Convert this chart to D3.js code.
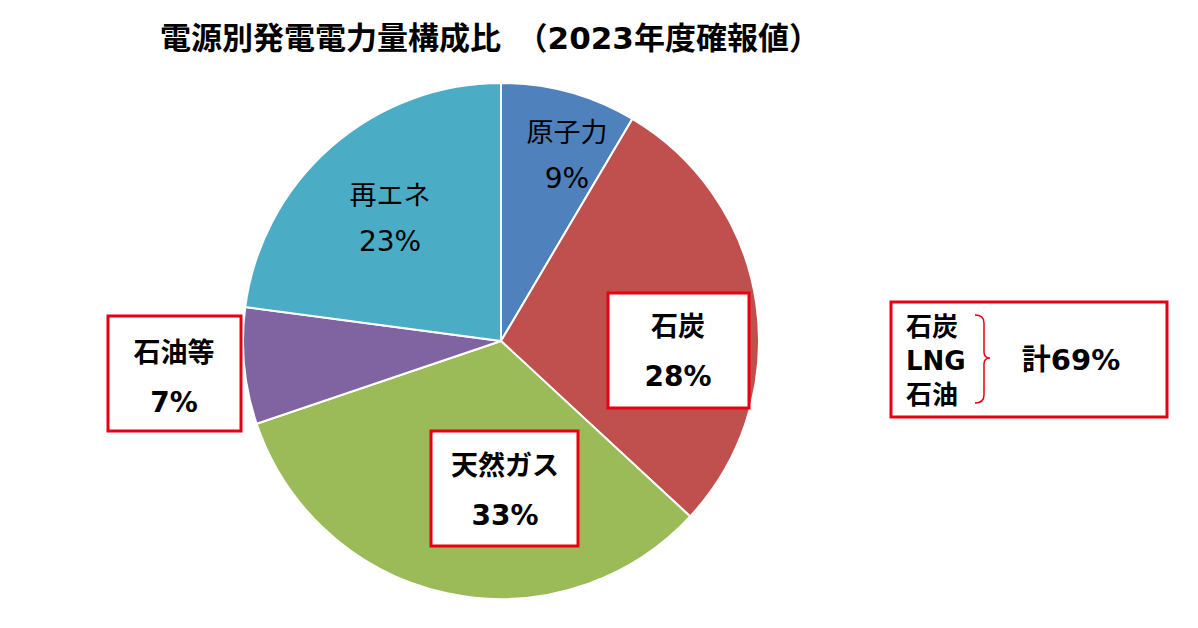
<!DOCTYPE html>
<html>
<head>
<meta charset="utf-8">
<script src="https://cdn.jsdelivr.net/npm/d3@7"></script>
<style>
  body { margin: 0; background: #fff; }
  svg text { font-family: "DejaVu Sans", "Noto Sans CJK JP", sans-serif; fill: #000; }
</style>
</head>
<body>
<script>
// data (share of generated power, %)
var sources  = ["原子力", "石炭", "天然ガス", "石油等", "再エネ"];
var shares   = [8.5, 28.4, 32.9, 7.3, 22.9];
var shareLbl = ["9%", "28%", "33%", "7%", "23%"];
var boxed    = [false, true, true, true, false];
var colors   = ["#4f81bd", "#c0504d", "#9bbb59", "#8064a2", "#4bacc6"];

var fossilLbl = ["石炭", "LNG", "石油"];
var fossilTotal = "計69%";

// layout: label centres (name line), box rects
var labelPos = [[567, 133], [678, 327], [505, 466], [174, 353], [390, 196]];
var boxRect  = [null, [608, 293, 141, 115], [431, 431, 147, 115], [108, 316, 133, 115], null];

var width = 1198, height = 628;
var cx = 501, cy = 341, radius = 258;

var svg = d3.select("body").append("svg")
  .attr("width", width)
  .attr("height", height);

svg.append("text")
  .attr("x", 490)
  .attr("y", 49)
  .attr("text-anchor", "middle")
  .attr("font-size", 31)
  .attr("font-weight", "bold")
  .text("電源別発電電力量構成比　（2023年度確報値）");

var data = sources.map(function (s, i) {
  return { name: s, value: shares[i], label: shareLbl[i], boxed: boxed[i], color: colors[i], i: i };
});

var pie = d3.pie().sort(null).value(function (d) { return d.value; });
var arc = d3.arc().innerRadius(0).outerRadius(radius);

var g = svg.append("g")
  .attr("transform", "translate(" + cx + "," + cy + ")");

g.selectAll("path")
  .data(pie(data))
  .enter()
  .append("path")
  .attr("d", arc)
  .attr("fill", function (d) { return d.data.color; })
  .attr("stroke", "#fff")
  .attr("stroke-width", 2);

// boxes first, then labels
svg.selectAll("rect.lbox")
  .data(data.filter(function (d) { return d.boxed; }))
  .enter()
  .append("rect")
  .attr("class", "lbox")
  .attr("x", function (d) { return boxRect[d.i][0]; })
  .attr("y", function (d) { return boxRect[d.i][1]; })
  .attr("width", function (d) { return boxRect[d.i][2]; })
  .attr("height", function (d) { return boxRect[d.i][3]; })
  .attr("fill", "#fff")
  .attr("stroke", "#e60012")
  .attr("stroke-width", 3);

var labels = svg.selectAll("g.lbl")
  .data(data)
  .enter()
  .append("g")
  .attr("class", "lbl")
  .attr("transform", function (d) { return "translate(" + labelPos[d.i][0] + "," + labelPos[d.i][1] + ")"; });

labels.append("text")
  .attr("text-anchor", "middle")
  .attr("dy", "0.35em")
  .attr("font-size", 27)
  .attr("font-weight", function (d) { return d.boxed ? "bold" : "normal"; })
  .text(function (d) { return d.name; });

labels.append("text")
  .attr("text-anchor", "middle")
  .attr("y", function (d) { return d.boxed ? 49 : 45; })
  .attr("dy", "0.35em")
  .attr("font-size", 28)
  .attr("font-weight", function (d) { return d.boxed ? "bold" : "normal"; })
  .text(function (d) { return d.label; });

// fossil total box
var fb = svg.append("g");
fb.append("rect")
  .attr("x", 891).attr("y", 302)
  .attr("width", 276).attr("height", 115)
  .attr("fill", "#fff")
  .attr("stroke", "#e60012")
  .attr("stroke-width", 3);

var fy = d3.scalePoint().domain(fossilLbl).range([327, 395]);
fb.selectAll("text.fl")
  .data(fossilLbl)
  .enter()
  .append("text")
  .attr("class", "fl")
  .attr("x", 906)
  .attr("y", function (d) { return fy(d); })
  .attr("dy", "0.35em")
  .attr("font-size", 26)
  .attr("font-weight", "bold")
  .text(function (d) { return d; });

fb.append("path")
  .attr("d", "M975,315 Q984,315 984,323 L984,352 Q984,358 990,358 Q984,358 984,364 L984,395 Q984,403 975,403")
  .attr("fill", "none")
  .attr("stroke", "#e60012")
  .attr("stroke-width", 1.5);

fb.append("text")
  .attr("x", 1071)
  .attr("y", 360)
  .attr("text-anchor", "middle")
  .attr("dy", "0.35em")
  .attr("font-size", 29)
  .attr("font-weight", "bold")
  .text(fossilTotal);
</script>
</body>
</html>
